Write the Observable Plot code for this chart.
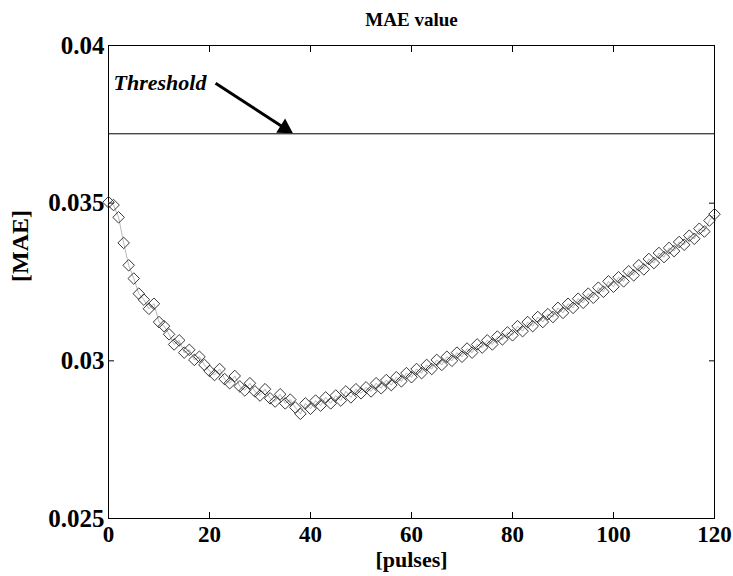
<!DOCTYPE html>
<html>
<head>
<meta charset="utf-8">
<script src="https://cdn.jsdelivr.net/npm/d3@7"></script>
<script src="https://cdn.jsdelivr.net/npm/@observablehq/plot@0.6"></script>
<style>
  html, body { margin: 0; padding: 0; background: #fff; }
</style>
</head>
<body>
<div id="chart"></div>
<script>
// Labels and ticks
const title = "MAE value";
const xLabel = "[pulses]";
const yLabel = "[MAE]";
const xTicks = [0, 20, 40, 60, 80, 100, 120];
const yTicks = [0.025, 0.03, 0.035, 0.04];
const thresholdLabel = "Threshold";
const threshold = 0.0372;

// MAE measured after each pulse (pulse 0 .. 120)
const mae = [
  0.03503, 0.03494, 0.03455, 0.03374, 0.03303, 0.03261, 0.03213, 0.03194, 0.03165, 0.03181,
  0.03123, 0.03110, 0.03084, 0.03052, 0.03065, 0.03026, 0.03035, 0.03003, 0.03013, 0.02987,
  0.02968, 0.02955, 0.02974, 0.02942, 0.02929, 0.02952, 0.02919, 0.02906, 0.02929, 0.02903,
  0.02890, 0.02910, 0.02881, 0.02871, 0.02894, 0.02865, 0.02877, 0.02852, 0.02832, 0.02865,
  0.02848, 0.02874, 0.02858, 0.02884, 0.02865, 0.02890, 0.02874, 0.02903, 0.02884, 0.02910,
  0.02897, 0.02916, 0.02903, 0.02929, 0.02913, 0.02939, 0.02923, 0.02948, 0.02935, 0.02961,
  0.02948, 0.02974, 0.02961, 0.02987, 0.02974, 0.03003, 0.02987, 0.03013, 0.03000, 0.03026,
  0.03013, 0.03039, 0.03026, 0.03052, 0.03042, 0.03065, 0.03052, 0.03077, 0.03068, 0.03090,
  0.03081, 0.03110, 0.03094, 0.03123, 0.03110, 0.03139, 0.03123, 0.03148, 0.03139, 0.03168,
  0.03152, 0.03181, 0.03168, 0.03197, 0.03184, 0.03213, 0.03200, 0.03232, 0.03219, 0.03252,
  0.03235, 0.03265, 0.03252, 0.03284, 0.03271, 0.03303, 0.03290, 0.03323, 0.03310, 0.03342,
  0.03329, 0.03358, 0.03348, 0.03377, 0.03368, 0.03397, 0.03387, 0.03419, 0.03410, 0.03445,
  0.03465
];

// Annotation: arrow from the label down to the threshold line
const arrowFrom = { pulse: 21.2, value: 0.03880 };
const arrowTip = { pulse: 36.6, value: threshold };
const headBack = 0.11;   // share of the arrow taken by its head
const headRotate = 122;  // degrees, points the head along the shaft
const labelPos = { pulse: 1, value: 0.03882 };

const data = mae.map((v, i) => ({ pulse: i, mae: v }));
const headAt = {
  pulse: arrowTip.pulse - headBack * (arrowTip.pulse - arrowFrom.pulse),
  value: arrowTip.value - headBack * (arrowTip.value - arrowFrom.value)
};

const serif = '"Liberation Serif", "Times New Roman", Times, serif';

const chart = Plot.plot({
  width: 733,
  height: 576,
  marginTop: 45,
  marginBottom: 58,
  marginLeft: 108,
  marginRight: 19,
  style: {
    fontFamily: serif,
    fontWeight: "bold",
    fontSize: "25px",
    color: "#000",
    background: "#fff",
    overflow: "visible"
  },
  x: { domain: [0, 120] },
  y: { domain: [0.025, 0.04] },
  marks: [
    Plot.frame({ stroke: "#000", strokeWidth: 1 }),
    // tick labels
    Plot.axisX({ ticks: xTicks, tickSize: 0, tickPadding: 7, fontSize: 23, tickFormat: d => String(d), label: null }),
    Plot.axisY({ ticks: yTicks, tickSize: 0, tickPadding: 4, tickFormat: d => String(d), label: null }),
    // inward ticks on all four sides of the box
    Plot.axisX({ anchor: "bottom", ticks: xTicks, tickSize: -6, tickFormat: () => "", label: null }),
    Plot.axisX({ anchor: "top", ticks: xTicks, tickSize: -6, tickFormat: () => "", label: null }),
    Plot.axisY({ anchor: "left", ticks: yTicks, tickSize: -6, tickFormat: () => "", label: null }),
    Plot.axisY({ anchor: "right", ticks: yTicks, tickSize: -6, tickFormat: () => "", label: null }),
    // axis titles
    Plot.text([xLabel], { frameAnchor: "bottom", lineAnchor: "top", dy: 33, fontSize: 22, fill: "#000" }),
    Plot.text([yLabel], { frameAnchor: "left", rotate: -90, dx: -88, dy: 0, fontSize: 24, fill: "#000" }),
    // threshold
    Plot.ruleY([threshold], { stroke: "#000", strokeWidth: 1 }),
    // MAE series
    Plot.line(data, { x: "pulse", y: "mae", stroke: "#999", strokeWidth: 0.7 }),
    Plot.dot(data, { x: "pulse", y: "mae", symbol: "diamond2", r: 5.2, stroke: "#222", strokeWidth: 0.9, fill: "none" }),
    // annotation
    Plot.link([{ x1: arrowFrom.pulse, y1: arrowFrom.value, x2: headAt.pulse, y2: headAt.value }], {
      x1: "x1", y1: "y1", x2: "x2", y2: "y2", stroke: "#000", strokeWidth: 3
    }),
    Plot.dot([headAt], {
      x: "pulse", y: "value", symbol: "triangle", r: 6.2, rotate: headRotate, fill: "#000", stroke: "none"
    }),
    Plot.text([thresholdLabel], {
      x: labelPos.pulse, y: labelPos.value, textAnchor: "start",
      fontStyle: "italic", fontWeight: "bold", fontSize: 22, fill: "#000"
    }),
    Plot.text([title], {
      frameAnchor: "top", dy: -33, fontSize: 19, fontWeight: "bold", fill: "#000"
    })
  ]
});

document.getElementById("chart").append(chart);
</script>
</body>
</html>
